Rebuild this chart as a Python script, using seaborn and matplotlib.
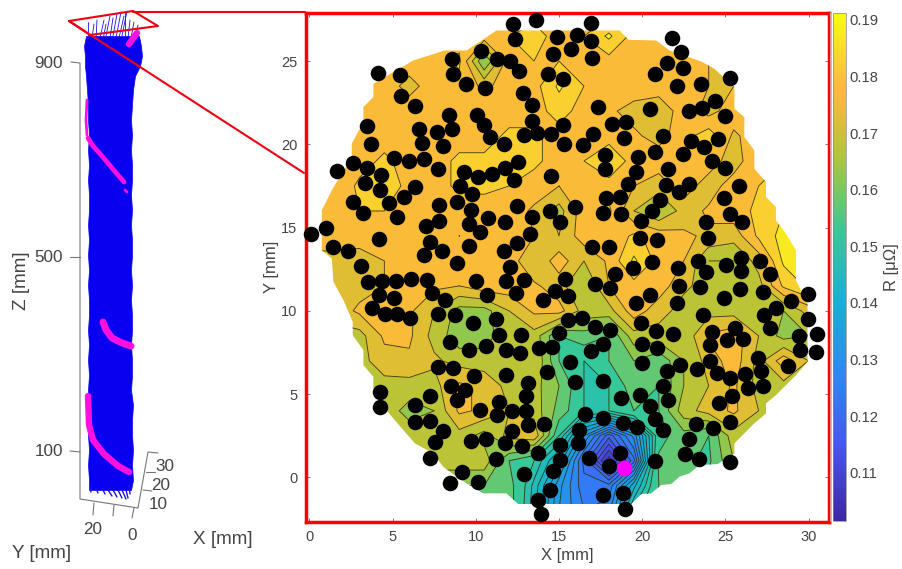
import numpy as np
import pandas as pd
import matplotlib
matplotlib.use("Agg")
import matplotlib.pyplot as plt
import seaborn as sns
from matplotlib.colors import LinearSegmentedColormap, Normalize
from matplotlib.cm import ScalarMappable
from matplotlib.patches import Polygon

# Resistance map on a 1.5 mm grid (units of 0.001 uOhm)
grid_x = [0, 1.5, 3, 4.5, 6, 7.5, 9, 10.5, 12, 13.5, 15, 16.5, 18, 19.5, 21, 22.5, 24, 25.5, 27, 28.5, 30, 31.5]
grid_y = [28, 26.5, 25, 23.5, 22, 20.5, 19, 17.5, 16, 14.5, 13, 11.5, 10, 8.5, 7, 5.5, 4, 2.5, 1, -0.5, -2]
r_map = [
    [178, 178, 178, 178, 178, 178, 178, 178, 178, 178, 178, 178, 178, 178, 178, 178, 178, 178, 178, 178, 178, 178],
    [178, 178, 178, 178, 178, 178, 178, 178, 180, 182, 178, 180, 186, 178, 178, 178, 178, 178, 178, 178, 178, 178],
    [178, 178, 178, 178, 178, 178, 181, 160, 178, 180, 180, 178, 178, 178, 178, 176, 175, 175, 175, 175, 175, 175],
    [178, 178, 178, 178, 173, 178, 178, 174, 177, 178, 186, 180, 178, 178, 178, 176, 175, 175, 175, 175, 175, 175],
    [178, 178, 178, 180, 178, 178, 178, 178, 178, 178, 182, 178, 176, 173, 171, 178, 173, 178, 178, 178, 178, 178],
    [178, 178, 178, 178, 178, 178, 178, 178, 181, 181, 178, 178, 178, 176, 173, 178, 183, 174, 178, 178, 178, 178],
    [178, 178, 178, 181, 178, 178, 181, 181, 181, 181, 178, 180, 184, 178, 178, 175, 178, 172, 180, 180, 180, 180],
    [178, 176, 181, 184, 178, 178, 181, 181, 180, 178, 175, 178, 178, 175, 172, 178, 172, 178, 180, 184, 184, 184],
    [180, 180, 180, 180, 178, 178, 177, 178, 178, 174, 168, 178, 181, 170, 165, 172, 176, 178, 181, 185, 185, 185],
    [178, 178, 178, 178, 178, 178, 175, 180, 178, 175, 170, 178, 176, 181, 178, 176, 174, 172, 181, 187, 188, 188],
    [173, 173, 172, 175, 180, 178, 178, 180, 178, 170, 178, 170, 176, 186, 178, 175, 165, 165, 172, 186, 187, 187],
    [173, 173, 173, 175, 178, 176, 175, 178, 178, 176, 172, 165, 175, 178, 178, 171, 168, 168, 168, 181, 186, 186],
    [172, 172, 176, 176, 176, 170, 163, 163, 170, 176, 177, 168, 168, 178, 172, 168, 168, 168, 167, 165, 172, 172],
    [168, 168, 168, 176, 176, 168, 162, 163, 168, 168, 155, 158, 155, 168, 168, 166, 176, 178, 170, 163, 165, 165],
    [168, 168, 168, 173, 174, 171, 168, 167, 165, 170, 155, 150, 155, 160, 156, 165, 172, 178, 168, 178, 170, 170],
    [168, 168, 168, 168, 168, 168, 176, 174, 168, 167, 160, 150, 150, 158, 155, 165, 170, 176, 168, 168, 168, 168],
    [168, 168, 168, 168, 163, 165, 176, 174, 170, 168, 158, 150, 150, 155, 155, 168, 172, 176, 170, 170, 170, 170],
    [168, 168, 168, 168, 168, 168, 168, 163, 172, 174, 150, 132, 118, 130, 153, 158, 155, 168, 168, 168, 168, 168],
    [168, 168, 168, 168, 168, 168, 168, 168, 155, 150, 140, 122, 106, 122, 156, 156, 154, 165, 165, 165, 165, 165],
    [160, 160, 160, 160, 160, 160, 160, 160, 157, 146, 133, 124, 124, 140, 155, 156, 156, 156, 156, 156, 156, 156],
    [157, 157, 157, 157, 157, 157, 157, 157, 157, 145, 132, 126, 128, 148, 155, 156, 156, 156, 156, 156, 156, 156],
]

# Outline of the measured area
hull_x = [11.24, 9.44, 8.14, 6.24, 5.04, 3.84, 3.84, 3.24, 3.24, 2.54, 2.54, 1.94, 1.34, 0.74, 0.74, 1.34,
          1.44, 2.04, 2.6, 2.6, 3.24, 3.24, 3.84, 3.84, 4.44, 5.04, 5.64, 6.34, 7.44, 8.04, 8.84, 9.44, 10.44,
          11.84, 12.54, 19.34, 19.94, 20.54, 21.14, 21.74, 22.24, 22.84, 23.44, 24.54, 25.54, 25.54, 26.14,
          26.74, 27.44, 27.44, 28.04, 28.64, 29.24, 29.94, 29.94, 29.24, 29.24, 29.24, 28.64, 28.04, 28.04,
          27.44, 27.44, 26.74, 26.74, 26.14, 26.14, 25.54, 25.54, 24.34, 23.54, 21.64, 20.84, 19.18, 18.64]
hull_y = [26.84, 25.64, 25.64, 25.04, 24.34, 23.64, 22.84, 22.24, 21.34, 20.04, 19.24, 18.24, 17.24, 16.04,
          13.64, 13.14, 11.74, 10.64, 9.34, 8.54, 7.64, 6.74, 6.04, 5.24, 4.24, 3.54, 2.84, 2.04, 1.44, 0.64,
          0.04, -0.36, -0.96, -0.96, -1.6, -1.6, -1.0, -0.96, -0.46, -0.4, 0.04, 0.24, 0.74, 0.8, 1.44, 2.04,
          2.64, 3.24, 3.84, 4.44, 4.94, 5.54, 6.14, 6.94, 10.44, 11.84, 12.64, 13.64, 14.64, 15.44, 16.24,
          16.84, 17.74, 18.54, 19.64, 20.44, 21.64, 22.14, 23.44, 24.54, 24.98, 25.64, 26.24, 26.28, 26.84]

# Black measurement points
dot_x = [12.26, 13.64, 16.94, 12.36, 14.88, 16.06, 16.94, 15.74, 14.66, 16.96, 10.34, 8.56, 11.26, 12.06, 12.62,
         8.62, 4.10, 5.42, 9.38, 10.54, 14.34, 15.24, 12.82, 5.50, 6.34, 13.38, 17.34, 8.36, 10.04, 13.38, 3.44,
         6.60, 10.50, 15.24, 7.64, 8.56, 12.88, 13.68, 14.54, 17.04, 10.88, 6.74, 3.68, 8.02, 11.70, 15.28, 16.44,
         5.08, 5.98, 6.88, 2.64, 1.64, 3.48, 12.54, 7.74, 9.30, 10.10, 11.00, 11.74, 4.28, 14.50, 12.28, 3.36,
         4.24, 6.34, 9.02, 9.78, 5.66, 2.60, 4.80, 8.86, 7.76, 12.46, 15.94, 3.24, 9.68, 14.48, 5.28, 10.74, 11.76,
         13.36, 15.06, 7.76, 7.00, 9.58, 10.26, 0.98, 0.10, 13.24, 4.16, 7.24, 12.48, 9.58, 1.40, 2.34, 7.94, 6.88,
         11.68, 17.00, 8.86, 3.10, 12.06,
         3.50, 4.34, 5.20, 6.10, 7.04, 9.98, 11.82, 12.88, 15.38, 17.14, 4.20, 5.10, 7.34, 8.16, 10.68, 12.42, 14.76,
         15.52, 14.04, 3.74, 4.52, 5.28, 6.04, 7.72, 8.72, 9.80, 11.24, 15.56, 16.40, 17.14, 11.38, 12.74, 15.00,
         8.42, 10.64, 9.58, 11.84, 13.78, 14.60, 12.64, 16.90, 15.66, 7.74, 8.60, 9.88, 11.80, 14.28, 13.12, 15.96,
         8.52, 9.36, 13.04, 4.24, 7.24, 8.84, 6.34, 11.38, 4.24, 10.28, 12.16, 13.04, 11.26, 16.56, 6.36, 7.24,
         13.12, 14.10, 8.04, 12.20, 16.20, 7.56, 9.72, 10.60, 11.76, 12.78, 15.04, 16.14, 13.72, 7.22, 11.20, 15.06,
         16.80, 9.14, 12.88, 14.62, 8.42, 10.10, 14.44, 13.72, 13.94,
         21.78, 22.34, 21.52, 22.48, 20.80, 25.30, 22.10, 23.54, 24.36, 20.46, 22.84, 23.60, 25.00, 18.16, 19.00,
         21.24, 18.92, 24.58, 22.94, 23.70, 20.80, 22.48, 19.74, 17.78, 24.20, 25.00, 17.78, 21.56, 19.64, 25.80,
         22.84, 21.44, 19.16, 22.24, 17.80, 18.68, 24.94, 21.10, 20.56, 17.64, 18.70, 25.28, 26.00, 23.86, 19.90,
         19.88, 20.90, 23.94, 18.00, 25.94, 23.38, 27.10, 20.58, 25.06, 19.42, 22.18, 25.96, 18.34, 23.84, 27.68,
         18.04, 20.44, 22.24, 23.46, 25.90, 27.24, 29.98, 24.94, 28.92, 19.64, 22.10, 28.06, 23.68, 27.30, 29.94,
         19.90, 27.70, 25.56, 24.20, 20.84, 18.04, 21.88, 30.52, 29.40, 25.12, 26.06, 20.00, 24.10, 17.64, 20.90,
         29.46, 30.44, 26.96, 24.10, 19.98, 22.28, 23.30, 28.78, 27.12, 21.48, 24.52, 26.18, 25.30, 17.64, 21.26,
         27.26, 26.38, 19.88, 25.42, 18.72, 21.58, 24.64, 20.46, 17.64, 20.76, 25.28, 18.82, 23.24, 24.28, 19.66,
         21.24, 22.84, 22.60, 18.64, 23.40, 20.80, 25.28, 18.00, 17.64, 18.86, 18.94]
dot_y = [27.24, 27.44, 27.28, 26.32, 26.44, 26.56, 26.18, 25.70, 25.44, 25.20, 25.62, 25.10, 25.14, 25.00, 24.40,
         24.22, 24.26, 24.18, 23.64, 23.40, 24.20, 23.92, 23.10, 22.92, 22.28, 22.34, 22.24, 21.74, 21.78, 21.42, 21.12,
         20.94, 21.18, 21.14, 20.76, 20.94, 20.54, 20.70, 20.64, 20.60, 20.42, 20.10, 20.04, 19.92, 20.02, 20.02, 19.98,
         19.20, 19.02, 19.12, 18.86, 18.40, 18.58, 18.92, 18.50, 18.34, 18.06, 18.22, 18.56, 18.14, 18.12, 17.88, 17.70,
         17.28, 17.46, 17.48, 17.02, 16.86, 16.56, 16.46, 16.52, 16.34, 16.32, 16.22, 15.90, 16.08, 16.02, 15.66, 15.56, 15.34,
         15.64, 15.36, 15.42, 15.08, 15.24, 14.76, 14.96, 14.60, 14.62, 14.30, 14.16, 14.08, 13.88, 13.82, 13.58, 13.60, 13.34,
         13.62, 13.82, 12.88, 12.68, 12.66,
         11.74, 11.78, 11.78, 11.94, 11.84, 11.80, 11.78, 11.84, 11.94, 11.60, 10.94, 10.78, 11.06, 10.68, 10.94, 11.10, 11.20,
         10.92, 10.64, 10.18, 9.84, 9.84, 9.60, 9.84, 9.78, 9.30, 9.50, 9.48, 9.60, 9.04, 8.56, 8.54, 8.68,
         8.14, 7.92, 7.66, 7.68, 7.78, 7.84, 7.46, 7.60, 6.94, 6.60, 6.58, 6.10, 6.16, 6.34, 5.64, 5.72,
         5.46, 5.24, 4.90, 5.10, 4.86, 4.62, 4.32, 4.54, 4.20, 4.02, 3.98, 3.98, 3.72, 3.78, 3.34, 3.38,
         3.14, 3.20, 2.76, 2.78, 2.84, 2.14, 2.18, 2.28, 2.06, 1.88, 1.92, 2.08, 1.44, 1.18, 1.10, 1.04,
         1.18, 0.34, 0.18, 0.38, -0.34, -0.30, -0.76, -1.38, -2.20,
         26.38, 25.52, 24.88, 24.56, 24.20, 23.96, 23.52, 23.60, 22.60, 22.12, 21.98, 22.18, 21.68, 21.24, 21.36,
         20.52, 20.36, 20.30, 20.18, 19.84, 19.52, 19.40, 19.22, 19.38, 19.00, 18.60, 18.54, 18.54, 18.36, 17.52,
         17.64, 17.54, 17.60, 17.14, 16.76, 16.84, 16.78, 16.68, 16.00, 15.90, 15.82, 15.84, 15.34, 15.32, 15.38,
         14.40, 14.26, 14.40, 13.84, 13.20, 13.02, 13.02, 12.92, 12.76, 12.60, 12.60, 12.38, 12.24, 12.34, 12.20,
         11.36, 10.98, 11.48, 11.42, 11.34, 11.12, 11.04, 10.78, 10.58, 10.48, 10.46, 10.20, 9.74, 9.74, 9.52,
         9.30, 8.98, 9.00, 8.74, 8.80, 8.84, 8.64, 8.64, 8.50, 8.26, 8.30, 8.00, 7.94, 8.04, 7.80,
         7.66, 7.52, 7.16, 6.98, 6.84, 6.72, 6.50, 6.66, 6.38, 6.38, 6.24, 6.22, 5.94, 5.80, 5.48,
         5.48, 5.34, 4.96, 4.90, 4.74, 4.64, 4.48, 4.30, 3.54, 3.50, 3.34, 3.28, 3.18, 2.98, 3.02,
         2.82, 2.28, 1.38, 1.44, 1.12, 0.96, 0.90, 0.66, -1.06, -0.96, -1.90]
hot_x = [18.88]
hot_y = [0.58]

cbar_ticks = [0.11, 0.12, 0.13, 0.14, 0.15, 0.16, 0.17, 0.18, 0.19]

# Left panel: strand bundle as seen on the page (page pixels)
column_y = [36, 46, 56, 66, 76, 90, 105, 120, 135, 150, 165, 180, 195, 210, 225, 240, 255, 270, 285, 300, 315,
            330, 345, 360, 375, 390, 405, 420, 435, 450, 465, 480, 490]
column_left = [86, 84, 85, 85, 86, 87, 88, 88, 89, 88, 89, 88, 89, 89, 88, 89, 88, 89, 88, 89, 89,
               88, 89, 88, 89, 88, 88, 89, 88, 89, 88, 89, 89]
column_right = [139, 141, 142, 140, 135, 133, 132, 131, 132, 131, 132, 132, 131, 132, 131, 132, 132, 131, 132, 131, 132,
                132, 131, 132, 132, 131, 133, 132, 132, 133, 132, 133, 131]
hair_top_x0 = [88, 92, 96, 100, 103, 106, 110, 113, 116, 119, 122, 125, 128, 131, 135]
hair_top_y0 = [38, 38, 40, 38, 40, 36, 38, 36, 38, 38, 36, 38, 38, 38, 38]
hair_top_x1 = [88, 94, 97, 104, 106, 110, 113, 117, 121, 124, 127, 125, 130, 134, 138]
hair_top_y1 = [22, 24, 20, 20, 24, 16, 18, 14, 12, 16, 11, 13, 20, 22, 25]
hair_low_x0 = [90, 96, 102, 108, 113, 118, 122, 126, 129]
hair_low_y0 = [486, 488, 488, 490, 490, 490, 490, 490, 485]
hair_low_x1 = [91, 98, 105, 112, 117, 122, 126, 128, 130]
hair_low_y1 = [492, 493, 494, 496, 497, 498, 499, 498, 494]
band_xs = [[87, 86, 87], [88, 93, 102, 112, 124], [103, 106, 112, 122, 131], [88, 89, 93, 104, 118, 129], [137, 134, 129], [127, 125]]
band_ys = [[100, 120, 135], [138, 146, 156, 168, 182], [322, 330, 338, 343, 346], [396, 425, 440, 454, 466, 472], [33, 37, 44], [192, 190]]
band_ws = [2.0, 3.4, 5.0, 4.6, 4.6, 2.0]

parula_pos = [0, 0.143, 0.286, 0.429, 0.571, 0.714, 0.80, 0.857, 0.92, 1]
parula = [(0.2422, 0.1504, 0.6603), (0.2810, 0.3228, 0.9579), (0.1786, 0.5289, 0.9682), (0.0689, 0.6948, 0.8394),
          (0.2161, 0.7843, 0.5923), (0.6720, 0.7793, 0.2227), (0.90, 0.74, 0.20), (0.995, 0.73, 0.23),
          (0.97, 0.84, 0.17), (0.9769, 0.9839, 0.0805)]

sns.set_theme(style="white")
plt.rcParams['font.family'] = ['Liberation Sans', 'DejaVu Sans']
gray = '#444444'
W, H = 902, 569

cmap = LinearSegmentedColormap.from_list('parula', list(zip(parula_pos, parula)))
norm = Normalize(0.1015, 0.1912)

fig = plt.figure(figsize=(W / 100, H / 100), dpi=100)
ax = fig.add_axes([305.5 / W, 1 - 521.5 / H, 523 / W, 509 / H])

# Contour map clipped to the measured area, closer lines down in the pit
R = np.array(r_map) / 1000
levels = np.concatenate([np.arange(0.102, 0.150, 0.003), np.arange(0.150, 0.196, 0.005)])
hull = Polygon(np.column_stack([hull_x, hull_y]), closed=True, transform=ax.transData, fc='none', ec='none')
ax.add_patch(hull)
cf = ax.contourf(grid_x, grid_y, R, levels=levels, cmap=cmap, norm=norm)
cl = ax.contour(grid_x, grid_y, R, levels=levels, colors='#2a2a10', linewidths=0.65, alpha=0.85)
cf.set_clip_path(hull)
cl.set_clip_path(hull)

dots = pd.DataFrame({'x': dot_x, 'y': dot_y})
sns.scatterplot(data=dots, x='x', y='y', color='black', s=125, linewidth=0, ax=ax, zorder=5, clip_on=False)
sns.scatterplot(x=hot_x, y=hot_y, color='#ff00ff', s=125, linewidth=0, ax=ax, zorder=6)

ax.set_xlim(-0.24, 31.2)
ax.set_ylim(-2.65, 27.92)
ax.set_xticks([0, 5, 10, 15, 20, 25, 30])
ax.set_yticks([0, 5, 10, 15, 20, 25])
ax.tick_params(direction='in', length=3.2, width=0.6, color='#666666', top=True, right=True, bottom=True, left=True,
               labelsize=10.5, labelcolor=gray, pad=6)
ax.set_xlabel('X [mm]', fontsize=12, color=gray, labelpad=3)
ax.set_ylabel('Y [mm]', fontsize=12, color=gray, labelpad=1)
for s in ax.spines.values():
    s.set_color('#ff0000')
    s.set_linewidth(2.5)

# Colorbar
cax = fig.add_axes([832.5 / W, 1 - 521 / H, 13 / W, 508 / H])
cb = fig.colorbar(ScalarMappable(norm=norm, cmap=cmap), cax=cax)
cb.set_ticks(cbar_ticks)
cb.ax.tick_params(direction='in', length=2.5, width=0.5, color='#666666', labelsize=10.6, labelcolor=gray, pad=3)
cb.outline.set_edgecolor('#888888')
cb.outline.set_linewidth(0.5)
cb.set_label('R [μΩ]', fontsize=12, color=gray, labelpad=4)

# Page overlay for the 3D bundle and the zoom lines
page = fig.add_axes([0, 0, 1, 1], zorder=3)
page.patch.set_alpha(0)
page.set_xlim(0, W)
page.set_ylim(H, 0)
page.axis('off')

page.fill_betweenx(column_y, column_left, column_right, color='#0a00f0', lw=0.5)
for i in range(len(hair_top_x0)):
    page.plot([hair_top_x0[i], hair_top_x1[i]], [hair_top_y0[i], hair_top_y1[i]], color='#1a10f0', lw=0.6)
for i in range(len(hair_low_x0)):
    page.plot([hair_low_x0[i], hair_low_x1[i]], [hair_low_y0[i], hair_low_y1[i]], color='#1a10f0', lw=1.0)
for bx, by, bw in zip(band_xs, band_ys, band_ws):
    page.plot(bx, by, color='#ff10e0', lw=bw, solid_capstyle='round')

# Box of the 3D axes
line = dict(color='#777777', lw=0.8)
page.plot([71, 80, 80, 138, 148, 158], [62, 63, 499, 508, 452, 453], **line)
page.plot([70, 80], [257, 257], **line)
page.plot([70, 80], [451, 452], **line)
page.plot([94, 93], [503, 515], **line)
page.plot([114, 113], [505, 516], **line)
page.plot([134, 132], [508, 518], **line)
page.plot([146, 155], [472, 472], **line)
page.plot([143, 152], [490, 491], **line)
page.plot([831, 831], [13, 521], color='#bbbbbb', lw=1.2)

# Zoom markers
red = dict(color='#f00010', lw=1.5)
page.plot([69, 133, 158, 90, 69], [21, 11, 26, 35, 21], **red)
page.plot([133, 305], [12, 12], **red)
page.plot([69, 304], [21, 173], **red)

txt = dict(color=gray, fontsize=12.3)
label = dict(color=gray, fontsize=13.6)
page.text(63, 63, '900', ha='right', va='center', **txt)
page.text(63, 257, '500', ha='right', va='center', **txt)
page.text(63, 451, '100', ha='right', va='center', **txt)
page.text(93, 530, '20', ha='center', va='center', **txt)
page.text(132, 535, '0', ha='center', va='center', **txt)
page.text(165, 466, '30', ha='center', va='center', **txt)
page.text(161, 485, '20', ha='center', va='center', **txt)
page.text(158, 504, '10', ha='center', va='center', **txt)
page.text(223, 540, 'X [mm]', ha='center', va='center', **label)
page.text(42, 553, 'Y [mm]', ha='center', va='center', **label)
page.text(22, 281, 'Z [mm]', ha='center', va='center', rotation=90, **label)

fig.savefig('out.png', dpi=100)
